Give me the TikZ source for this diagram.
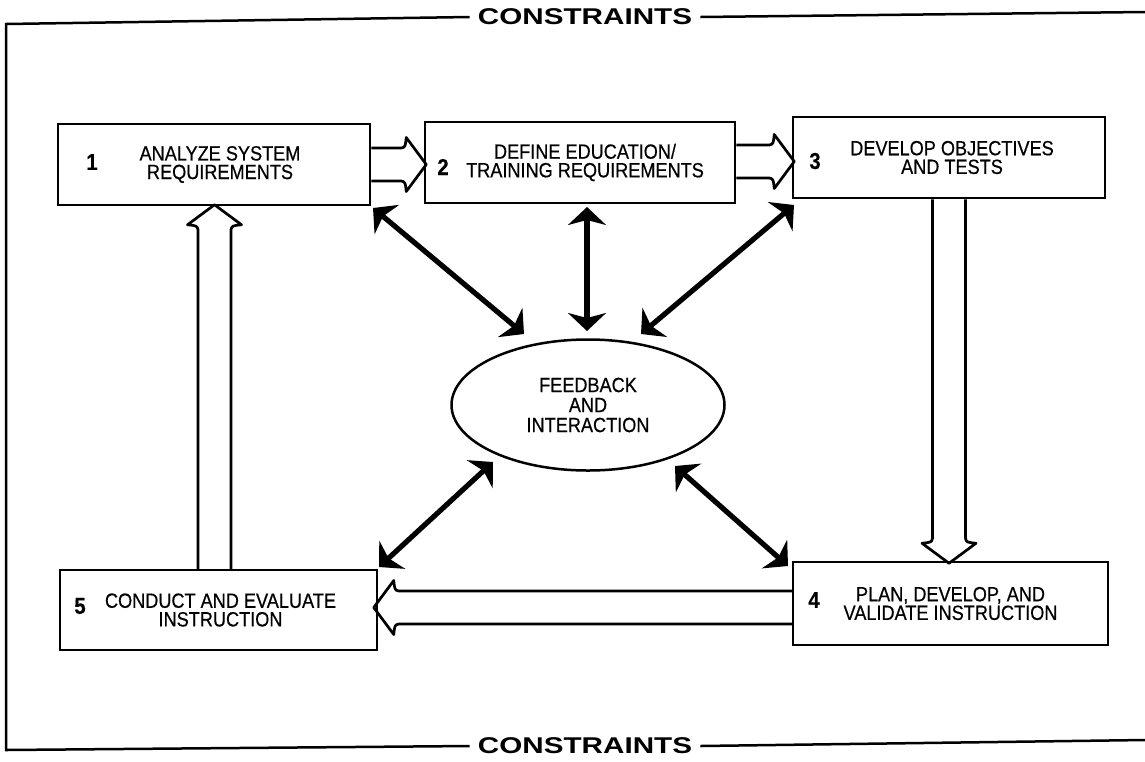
\documentclass[tikz,border=0pt]{standalone}
\usepackage{fontspec}
\setmainfont{Liberation Sans}[FakeStretch=0.88,FakeBold=0.5]
\newfontfamily\cfont{Liberation Sans}[FakeStretch=1.3]
\usetikzlibrary{shapes.geometric,arrows.meta,calc}
\newcommand\hollowarrow[3]{%
  \draw[hollow,shift={#1},rotate=#2]
   (0,-16.5) -- ({#3-25},-16.5) .. controls ({#3-21},-17.5) .. ({#3-20},-27)
   -- (#3,0) -- ({#3-20},27) .. controls ({#3-21},17.5) .. ({#3-25},16.5) -- (0,16.5);}
\begin{document}
\begin{tikzpicture}[x=0.5pt,y=-0.5pt,
  frame/.style={line width=1.25pt},
  ctext/.style={font=\cfont\bfseries\fontsize{11.4}{12}\selectfont,inner sep=4pt},
  box/.style={draw,line width=1.25pt,align=center,inner sep=0pt,
    font=\fontsize{10.3}{9.3}\selectfont},
  num/.style={font=\bfseries\fontsize{11.5}{12}\selectfont,inner sep=0pt},
  fbstyle/.style={draw,ellipse,line width=1.25pt,align=center,inner sep=0pt,
    font=\fontsize{10.3}{10}\selectfont},
  hollow/.style={draw,line width=1.35pt,line join=round},
  dbl/.style={line width=2.6pt,
    {Stealth[length=9pt,width=19pt,inset=2.5pt]}-{Stealth[length=9pt,width=19pt,inset=2.5pt]}}]
\useasboundingbox (0,0) rectangle (1145,761);

% constraints frame
\node[ctext] (ct) at (585,17) {CONSTRAINTS};
\node[ctext] (cb) at (585,746) {CONSTRAINTS};
\coordinate (ftl) at (6,24);
\coordinate (fbl) at (6,750);
\coordinate (ftr) at (1145,12);
\coordinate (fbr) at (1145,740);
\draw[frame] (ct.west) -- (ftl) -- (fbl) -- (cb.west);
\draw[frame] (ct.east) -- (ftr);
\draw[frame] (cb.east) -- (fbr);

% boxes
\node[box,minimum width=156pt,minimum height=40.5pt] (b1) at (214,164.5)
  {\hspace*{6pt}ANALYZE SYSTEM\\\hspace*{6pt}REQUIREMENTS};
\node[box,minimum width=155pt,minimum height=40.5pt] (b2) at (580,162.5)
  {\hspace*{5pt}DEFINE EDUCATION/\\\hspace*{5pt}TRAINING REQUIREMENTS};
\node[box,minimum width=156pt,minimum height=40.5pt] (b3) at (949,157.5)
  {\hspace*{3pt}DEVELOP OBJECTIVES\\\hspace*{3pt}AND TESTS};
\node[box,minimum width=157.5pt,minimum height=41.5pt] (b4) at (950.5,603.5)
  {PLAN, DEVELOP, AND\\VALIDATE INSTRUCTION};
\node[box,minimum width=158.5pt,minimum height=40pt] (b5) at (218.5,610)
  {\hspace*{2pt}CONDUCT AND EVALUATE\\\hspace*{2pt}INSTRUCTION};

\node[num] (n1) at (92,162) {1};
\node[num] (n2) at (443,167) {2};
\node[num] (n3) at (815,161) {3};
\node[num] (n4) at (814,600) {4};
\node[num] (n5) at (80,606) {5};

% feedback ellipse
\node[fbstyle,minimum width=136.5pt,minimum height=65.5pt] (fb) at (588,405)
  {FEEDBACK\\AND\\INTERACTION};

% hollow flow arrows
\hollowarrow{(b1.east)}{0}{55}
\hollowarrow{($(b2.east)+(0,-1)$)}{0}{58}
\hollowarrow{(b3.south)}{-90}{364}
\hollowarrow{($(b4.west)+(0,4)$)}{180}{418}
\hollowarrow{($(b5.north)+(-4,0)$)}{90}{364}

% feedback double arrows
\coordinate (d1a) at (373,208);
\coordinate (d1b) at (524,334);
\coordinate (d2a) at (587,207);
\coordinate (d2b) at (587,331);
\coordinate (d3a) at (794,205);
\coordinate (d3b) at (641,334);
\coordinate (d4a) at (493,462);
\coordinate (d4b) at (379,567);
\coordinate (d5a) at (675,466);
\coordinate (d5b) at (788,566);
\draw[dbl] (d1a) -- (d1b);
\draw[dbl] (d2a) -- (d2b);
\draw[dbl] (d3a) -- (d3b);
\draw[dbl] (d4a) -- (d4b);
\draw[dbl] (d5a) -- (d5b);
\end{tikzpicture}
\end{document}
